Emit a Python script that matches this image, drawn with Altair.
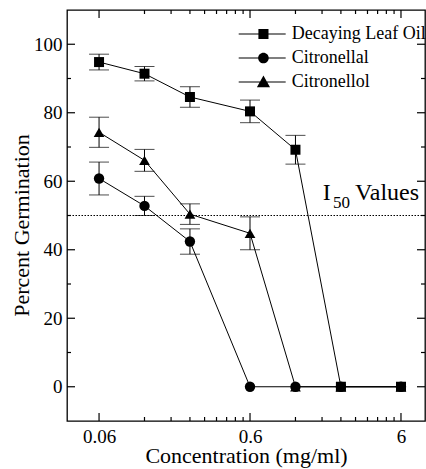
import math
import altair as alt
import pandas as pd

# ---------------- data ----------------
conc = [0.06, 0.12, 0.24, 0.6, 1.2, 2.4, 6]
series_names = ["Decaying Leaf Oil", "Citronellal", "Citronellol"]
leaf_oil = [94.8, 91.4, 84.6, 80.4, 69.2, 0, 0]
leaf_oil_err = [2.3, 2.1, 3.0, 3.3, 4.2, 0, 0]
citronellal = [60.8, 52.8, 42.4, 0, 0, 0, 0]
citronellal_err = [4.8, 2.8, 3.7, 0, 0, 0, 0]
citronellol = [74.3, 66.1, 50.4, 44.8, 0, 0, 0]
citronellol_err = [4.4, 3.2, 3.0, 4.8, 0, 0, 0]

x_major = [0.06, 0.6, 6]
x_minor = [0.12, 0.18, 0.24, 0.30, 0.36, 0.42, 0.48, 0.54,
           1.2, 1.8, 2.4, 3.0, 3.6, 4.2, 4.8, 5.4]
y_major = [0, 20, 40, 60, 80, 100]
y_minor = [10, 30, 50, 70, 90]
x_range = [0.0368, 8.655]
y_range = [-10, 110]
threshold = [50]

ann_text = ["I", "50", "Values"]
ann_x = [1.82, 2.13, 2.98]
ann_y = [54.5, 52.2, 54.5]
ann_size = [24, 17, 24]

# ---------------- layout ----------------
FONT = "Liberation Serif"
W, H = 358, 411
MAJOR_LEN, MINOR_LEN = 8, 4  # inward tick lengths in px

# ---------------- tables ----------------
rows = []
for name, vals, errs in zip(series_names,
                            [leaf_oil, citronellal, citronellol],
                            [leaf_oil_err, citronellal_err, citronellol_err]):
    for c, v, e in zip(conc, vals, errs):
        rows.append({"series": name, "conc": c, "val": v, "err": e,
                     "lo": v - e, "hi": v + e})
df = pd.DataFrame(rows)
df_err = df[df["err"] > 0]
df_thr = pd.DataFrame({"y": threshold})
df_ann = pd.DataFrame({"t": ann_text, "x": ann_x, "y": ann_y, "s": ann_size})

# tick ends expressed in data units (px length converted through the scale spans)
y_per_px = (y_range[1] - y_range[0]) / H
dec_per_px = math.log10(x_range[1] / x_range[0]) / W
xt_rows, yt_rows = [], []
for vals, L in ((x_major, MAJOR_LEN), (x_minor, MINOR_LEN)):
    for v in vals:
        xt_rows.append({"v": v, "a": y_range[0], "b": y_range[0] + L * y_per_px})
        xt_rows.append({"v": v, "a": y_range[1], "b": y_range[1] - L * y_per_px})
for vals, L in ((y_major, MAJOR_LEN), (y_minor, MINOR_LEN)):
    for v in vals:
        yt_rows.append({"v": v, "a": x_range[0], "b": x_range[0] * 10 ** (L * dec_per_px)})
        yt_rows.append({"v": v, "a": x_range[1], "b": x_range[1] / 10 ** (L * dec_per_px)})
df_xt = pd.DataFrame(xt_rows)
df_yt = pd.DataFrame(yt_rows)

xs = alt.Scale(type="log", domain=x_range, nice=False)
ys = alt.Scale(domain=y_range, nice=False, zero=False)

line_part = "M-1,-0.056L4.22,-0.056L4.22,0.056L-1,0.056Z"
legend_paths = [
    line_part + " M1.19,-0.56L2.31,-0.56L2.31,0.56L1.19,0.56Z",
    line_part + " M1.16,0A0.59,0.59 0 1,1 2.34,0A0.59,0.59 0 1,1 1.16,0Z",
    line_part + " M1.02,0.58L1.75,-0.72L2.48,0.58Z",
]

base = alt.Chart(df)

lines = base.mark_line(color="black", strokeWidth=1).encode(
    x=alt.X("conc:Q", scale=xs, axis=alt.Axis(
        orient="bottom", values=x_major, format="~g", ticks=False, domain=False,
        grid=False, labelFont=FONT, labelFontSize=19, labelColor="black",
        labelPadding=6, labelFlush=False,
        title="Concentration (mg/ml)", titleFont=FONT, titleFontSize=22,
        titleFontWeight="normal", titleColor="black",
        titleBaseline="alphabetic", titleY=41)),
    y=alt.Y("val:Q", scale=ys, axis=alt.Axis(
        orient="left", values=y_major, ticks=False, domain=False, grid=False,
        labelFont=FONT, labelFontSize=19, labelColor="black", labelPadding=5,
        title="Percent Germination", titleFont=FONT, titleFontSize=22,
        titleFontWeight="normal", titleColor="black", titleAngle=270,
        titleBaseline="alphabetic", titleAlign="center", titleX=-39, titleY=215)),
    detail="series:N",
)

x_ticks = alt.Chart(df_xt).mark_rule(color="black", strokeWidth=1.2).encode(
    x=alt.X("v:Q", scale=xs, axis=None),
    y=alt.Y("a:Q", scale=ys, axis=None),
    y2="b:Q",
)
y_ticks = alt.Chart(df_yt).mark_rule(color="black", strokeWidth=1.2).encode(
    y=alt.Y("v:Q", scale=ys, axis=None),
    x=alt.X("a:Q", scale=xs, axis=None),
    x2="b:Q",
)

thr = alt.Chart(df_thr).mark_rule(color="black", strokeWidth=1, strokeDash=[1.5, 1.5]).encode(
    y=alt.Y("y:Q", scale=ys, axis=None)
)

err_rule = alt.Chart(df_err).mark_rule(color="black", strokeWidth=1).encode(
    x=alt.X("conc:Q", scale=xs, axis=None),
    y=alt.Y("lo:Q", scale=ys, axis=None),
    y2="hi:Q",
)
cap_lo = alt.Chart(df_err).mark_tick(orient="horizontal", size=20, thickness=1, color="black").encode(
    x=alt.X("conc:Q", scale=xs, axis=None),
    y=alt.Y("lo:Q", scale=ys, axis=None),
)
cap_hi = alt.Chart(df_err).mark_tick(orient="horizontal", size=20, thickness=1, color="black").encode(
    x=alt.X("conc:Q", scale=xs, axis=None),
    y=alt.Y("hi:Q", scale=ys, axis=None),
)

points = base.mark_point(filled=True, color="black", opacity=1).encode(
    x=alt.X("conc:Q", scale=xs, axis=None),
    y=alt.Y("val:Q", scale=ys, axis=None),
    shape=alt.Shape("series:N", sort=series_names,
                    scale=alt.Scale(domain=series_names, range=["square", "circle", "triangle-up"]),
                    legend=None),
    size=alt.Size("series:N", sort=series_names,
                  scale=alt.Scale(domain=series_names, range=[100, 115, 180]),
                  legend=None),
)

legend_layer = base.mark_point(filled=True, color="black", opacity=0).encode(
    x=alt.X("conc:Q", scale=xs, axis=None),
    y=alt.Y("val:Q", scale=ys, axis=None),
    shape=alt.Shape("series:N", sort=series_names,
                    scale=alt.Scale(domain=series_names, range=legend_paths),
                    legend=alt.Legend(title=None, orient="none", legendX=171.7, legendY=15,
                                      symbolSize=324, symbolStrokeWidth=0,
                                      symbolFillColor="black", symbolStrokeColor="black",
                                      symbolOpacity=1, labelFont=FONT, labelFontSize=18,
                                      labelColor="black", labelOffset=35, rowPadding=6,
                                      padding=0, labelLimit=300)),
)

ann = alt.Chart(df_ann).mark_text(align="left", baseline="alphabetic", font=FONT, color="black").encode(
    x=alt.X("x:Q", scale=xs, axis=None),
    y=alt.Y("y:Q", scale=ys, axis=None),
    text="t:N",
    size=alt.Size("s:Q", scale=None),
)

chart = alt.layer(
    lines, x_ticks, y_ticks, thr, err_rule, cap_lo, cap_hi, points, legend_layer, ann
).resolve_scale(shape="independent", size="independent").resolve_axis(
    x="independent", y="independent"
).properties(
    width=W, height=H,
    autosize=alt.AutoSizeParams(type="none"),
    padding={"left": 67, "top": 10, "right": 1, "bottom": 48},
).configure(
    font=FONT,
    view=alt.ViewConfig(stroke="black", strokeWidth=1.3),
)

chart.save("out.html", embed_options={"renderer": "svg", "actions": False})
